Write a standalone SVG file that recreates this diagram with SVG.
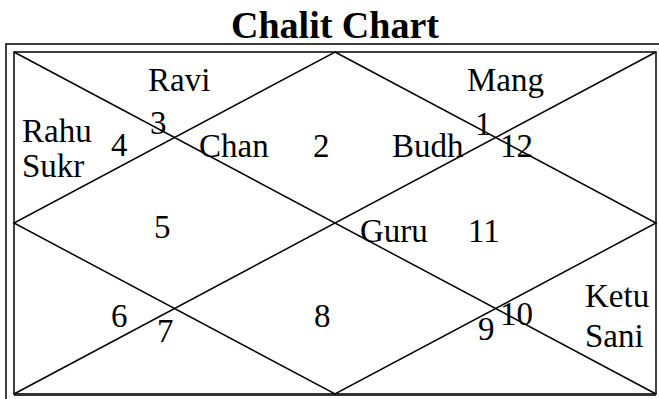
<svg xmlns="http://www.w3.org/2000/svg" width="659" height="399" viewBox="0 0 659 399">
<style>
.t{font-family:"Liberation Serif","Times New Roman",serif;font-size:33px;fill:#000}
.title{font-family:"Liberation Serif","Times New Roman",serif;font-size:38px;font-weight:bold;fill:#000}
.ln{stroke:#000;stroke-width:1.5;fill:none}
</style>
<rect x="0" y="0" width="659" height="399" fill="#fff"/>
<text class="title" x="335" y="38" text-anchor="middle">Chalit Chart</text>
<g id="frame">
<rect class="ln" x="6" y="44" width="670" height="370"/>
<rect class="ln" x="14" y="52" width="642" height="342"/>
<line x1="14" y1="394.5" x2="656" y2="394.5" stroke="#333" stroke-width="3"/>
</g>
<g id="connectors">
<line class="ln" x1="14" y1="52" x2="656" y2="394"/>
<line class="ln" x1="656" y1="52" x2="14" y2="394"/>
<polygon class="ln" points="335,52 656,223 335,394 14,223"/>
</g>
<g id="house1"><text class="t" x="475" y="135">1</text><text class="t" x="467" y="91">Mang</text><text class="t" x="392" y="157">Budh</text></g>
<g id="house2"><text class="t" x="313" y="157">2</text><text class="t" x="199" y="157">Chan</text></g>
<g id="house3"><text class="t" x="150" y="134">3</text><text class="t" x="148" y="91">Ravi</text></g>
<g id="house4"><text class="t" x="111" y="156">4</text><text class="t" x="22" y="142">Rahu</text><text class="t" x="22" y="177">Sukr</text></g>
<g id="house5"><text class="t" x="154" y="238">5</text></g>
<g id="house6"><text class="t" x="111" y="327">6</text></g>
<g id="house7"><text class="t" x="157" y="342">7</text></g>
<g id="house8"><text class="t" x="314" y="327">8</text></g>
<g id="house9"><text class="t" x="478" y="340">9</text></g>
<g id="house10"><text class="t" x="500" y="325">10</text><text class="t" x="585" y="307">Ketu</text><text class="t" x="585" y="347">Sani</text></g>
<g id="house11"><text class="t" x="468" y="242">11</text><text class="t" x="360" y="242">Guru</text></g>
<g id="house12"><text class="t" x="500" y="157">12</text></g>
</svg>
